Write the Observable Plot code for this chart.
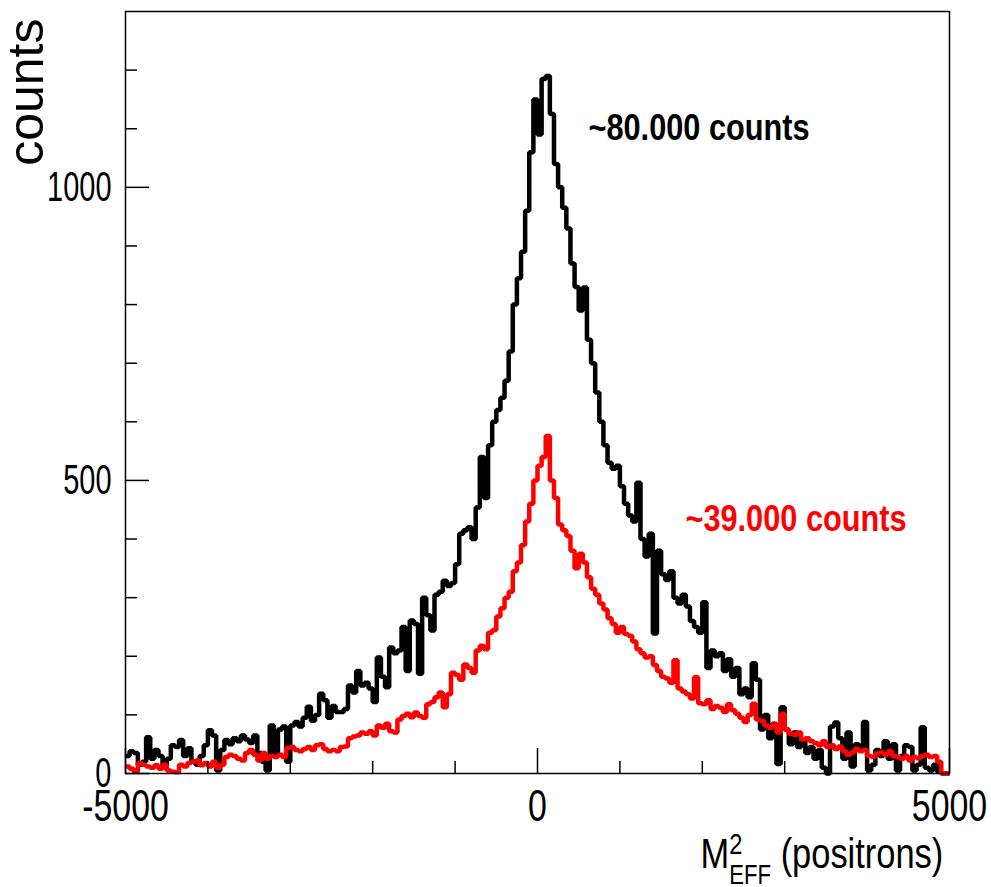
<!DOCTYPE html>
<html>
<head>
<meta charset="utf-8">
<script src="https://cdn.jsdelivr.net/npm/d3@7"></script>
<script src="https://cdn.jsdelivr.net/npm/@observablehq/plot@0.6"></script>
<style>
  html, body { margin: 0; padding: 0; background: #fff; }
  #chart { width: 991px; height: 887px; }
</style>
</head>
<body>
<div id="chart"></div>
<script>
// Histogram binning (M²_EFF axis)
const binStart = -5000;
const binWidth = 50;

// ~80.000 counts histogram (black), 200 bins from -5000 to 5000
const blackCounts = [
  30,38,35,15,20,62,25,40,30,10, 25,48,45,57,30,43,20,15,30,48,
  74,65,5,40,57,50,60,55,65,58, 52,65,35,20,5,82,30,75,80,20,
  82,88,80,95,114,90,100,136,125,95, 115,105,105,110,150,138,
  175,150,155,145,122, 198,165,147,215,205, 210,250,175,261,255,
  170,300,270,244,305, 310,329,320,325,357, 409,415,420,400,454,
  540,470,560,600,620, 641,670,720,800,845, 890,960,1060,1150,
  1090,1185,1190,1125,1040, 1000,965,930,870,830,
  790,829,740,700,650, 600,560,530,520,525,
  490,460,440,430,496, 400,370,409,239,380,
  340,330,345,300,290, 305,285,260,250,240,
  292,180,210,200,205, 175,195,165,180,135,
  145,130,188,160,75, 100,60,85,16,113,
  75,50,70,45,55, 35,45,25,40,10,
  0,80,87,60,25, 70,12,50,40,88,
  5,15,40,30,55, 25,50,5,30,48,
  45,5,15,79,10, 5,15,3,0,0
];

// ~39.000 counts histogram (red)
const redCounts = [
  12,8,3,18,15,12,10,14,8,15, 5,3,2,15,12,18,20,22,14,18,
  12,20,10,15,28,32,30,25,22,35, 40,32,22,35,25,30,28,32,28,44,
  45,40,38,42,45,40,48,50,42,38, 40,38,45,46,60,63,
  65,70,68,72,65, 82,78,85,72,70, 92,98,102,96,104,
  98,95,118,122,130, 138,113,135,172,168, 160,186,180,172,210,
  218,212,240,245,268, 282,300,310,345,360, 390,430,460,500,
  525,540,576,500,470, 425,415,405,380,350,
  375,360,335,315,305, 290,280,265,255,240,
  250,238,235,225,212, 205,198,200,185,175,
  165,162,155,193,145, 140,135,128,164,120,
  118,125,110,115,112, 105,118,108,102,95,
  88,100,119,92,90, 82,78,84,70,102,
  75,68,66,70,58, 60,55,52,48,55,
  45,48,42,46,38, 32,36,42,38,40,
  30,28,34,36,32, 38,30,28,25,30,
  22,28,26,30,32, 28,30,20,0,0
];

// Axis ticks
const xMajorTicks = [-5000, 0, 5000];
const xMinorTicks = [-4000, -3000, -2000, -1000, 1000, 2000, 3000, 4000];
const yMajorTicks = [0, 500, 1000];
const yMinorTicks = [100, 200, 300, 400, 600, 700, 800, 900, 1100, 1200];

// Texts
const yTitle = "counts";
const xTitleMain = "M";
const xTitleSup = "2";
const xTitleSub = "EFF";
const xTitleRest = " (positrons)";
const annotationTexts = ["~80.000 counts", "~39.000 counts"];
const annotationX = [619, 1796];
const annotationY = [1080, 413];
const annotationColors = ["#000000", "#ff0000"];

function steps(counts) {
  const pts = counts.map((v, i) => ({x: binStart + i * binWidth, y: v}));
  pts.push({x: binStart + counts.length * binWidth, y: counts[counts.length - 1]});
  return pts;
}
const annotations = annotationTexts.map((t, i) => ({text: t, x: annotationX[i], y: annotationY[i], color: annotationColors[i]}));

const W = 991, H = 887;
const mL = 125, mR = 42, mT = 11, mB = 114;
const frameW = W - mL - mR, frameH = H - mT - mB;
const font = "'Liberation Sans', Arial, Helvetica, sans-serif";

const chart = Plot.plot({
  width: W,
  height: H,
  marginLeft: mL,
  marginRight: mR,
  marginTop: mT,
  marginBottom: mB,
  style: {fontFamily: font, background: "#fff", color: "#000"},
  x: {domain: [-5000, 5000], axis: null},
  y: {domain: [0, 1300], axis: null},
  marks: [
    Plot.lineY(steps(blackCounts), {x: "x", y: "y", curve: "step-after", stroke: "#000", strokeWidth: 4.5, strokeLinejoin: "miter", strokeLinecap: "butt"}),
    Plot.lineY(steps(redCounts), {x: "x", y: "y", curve: "step-after", stroke: "#ff0000", strokeWidth: 4.5, strokeLinejoin: "miter", strokeLinecap: "butt"}),
    Plot.frame({stroke: "#000", strokeWidth: 1.5}),
    Plot.tickY(yMajorTicks, {y: d => d, stroke: "#000", strokeWidth: 1.5, insetRight: frameW - 24}),
    Plot.tickY(yMinorTicks, {y: d => d, stroke: "#000", strokeWidth: 1.5, insetRight: frameW - 12}),
    Plot.tickX(xMajorTicks, {x: d => d, stroke: "#000", strokeWidth: 1.5, insetTop: frameH - 25}),
    Plot.tickX(xMinorTicks, {x: d => d, stroke: "#000", strokeWidth: 1.5, insetTop: frameH - 12}),
    // text marks (order matters for post-processing): 0 y labels, 1 x labels, 2 y title, 3 x title, 4 annotations
    Plot.text(yMajorTicks, {y: d => d, text: d => String(d), frameAnchor: "left", dx: -14, textAnchor: "end", lineAnchor: "middle", fontSize: 42, fill: "#000"}),
    Plot.text(xMajorTicks, {x: d => d, text: d => String(d), frameAnchor: "bottom", dy: 47, textAnchor: "middle", lineAnchor: "bottom", fontSize: 44, fill: "#000"}),
    Plot.text([yTitle], {text: d => d, frameAnchor: "top-left", dx: -83, dy: 7, rotate: -90, textAnchor: "end", lineAnchor: "bottom", fontSize: 50, fill: "#000"}),
    Plot.text([xTitleMain + xTitleSup + xTitleSub + xTitleRest], {text: d => d, frameAnchor: "bottom-left", dx: 700 - mL, dy: 94, textAnchor: "start", lineAnchor: "bottom", fontSize: 42, fill: "#000"}),
    Plot.text(annotations, {x: "x", y: "y", text: "text", fill: "color", textAnchor: "start", lineAnchor: "bottom", fontSize: 37, fontWeight: "bold"})
  ]
});

const svg = chart.tagName.toLowerCase() === "svg" ? chart : chart.querySelector("svg");
const textGroups = Array.from(svg.querySelectorAll('g[aria-label="text"]'));

function squeeze(g, sx) {
  if (!g) return;
  g.querySelectorAll("text").forEach(t => {
    const tr = t.getAttribute("transform") || "";
    t.setAttribute("transform", tr + ` scale(${sx},1)`);
  });
}
squeeze(textGroups[0], 0.69);
squeeze(textGroups[1], 0.77);
squeeze(textGroups[3], 0.82);
squeeze(textGroups[4], 0.83);

// x title with superscript and subscript
const tt = textGroups[3] && textGroups[3].querySelector("text");
if (tt) {
  tt.textContent = "";
  const NS = "http://www.w3.org/2000/svg";
  const add = (txt, attrs) => {
    const s = document.createElementNS(NS, "tspan");
    s.textContent = txt;
    for (const k in attrs) s.setAttribute(k, attrs[k]);
    tt.appendChild(s);
  };
  add(xTitleMain, {});
  add(xTitleSup, {dy: "-14", "font-size": "29"});
  add(xTitleSub, {dx: "-16", dy: "30", "font-size": "27"});
  add(xTitleRest, {dy: "-16", "font-size": "42"});
}

document.getElementById("chart").appendChild(chart);
</script>
</body>
</html>
